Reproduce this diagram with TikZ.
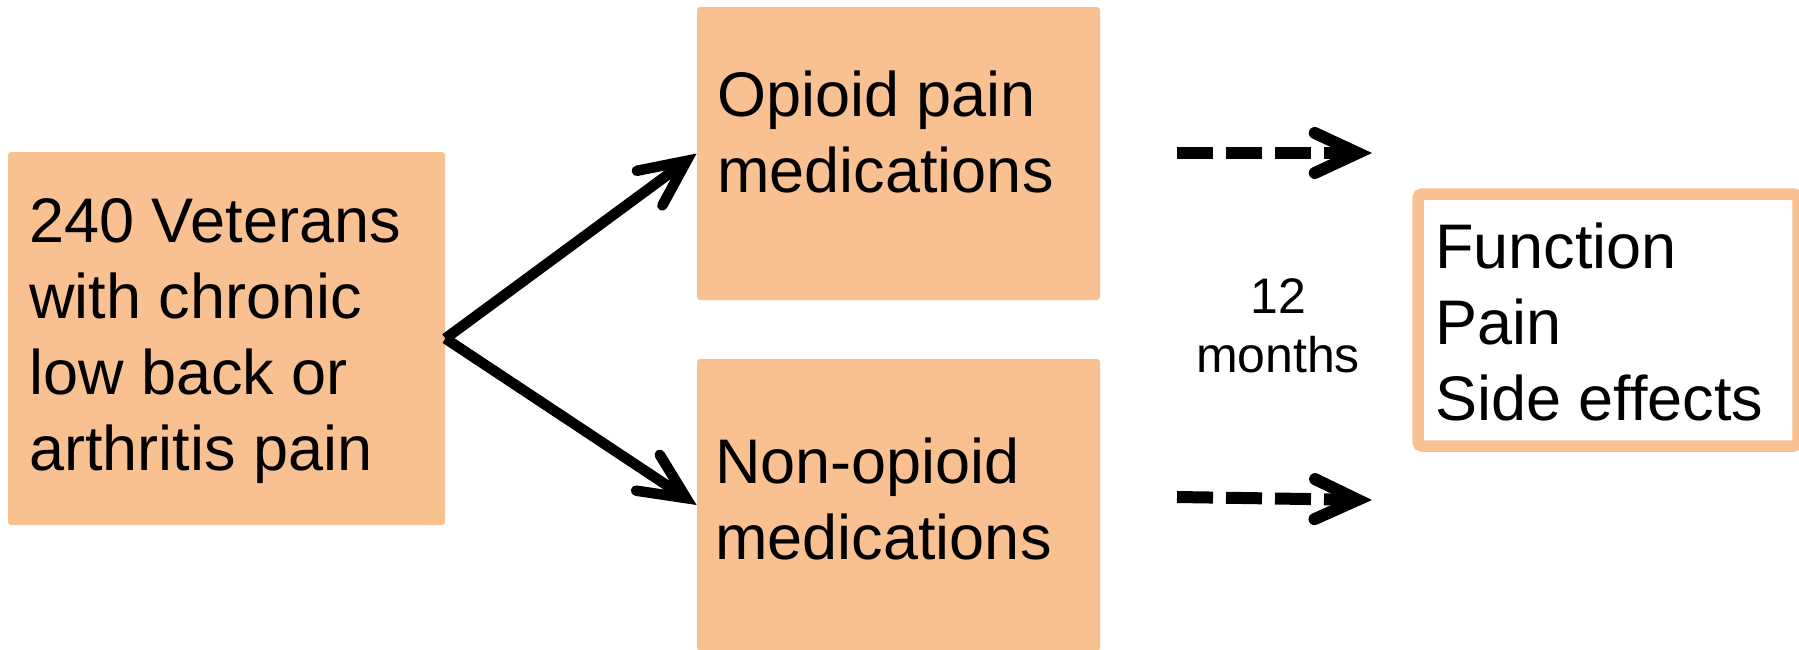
\documentclass[tikz,border=0pt]{standalone}
\usepackage{fontspec}
\setmainfont{Liberation Sans}
\usetikzlibrary{arrows.meta,fit}
\definecolor{peach}{RGB}{249,192,145}
\tikzset{
  box/.style={fill=peach, draw=none, rounded corners=1.5pt, inner sep=0pt},
  outbox/.style={draw=peach, line width=5.75pt, fill=white, rounded corners=2pt, inner sep=0pt},
  txt/.style={font=\fontsize{31.5pt}{38pt}\selectfont, align=left, inner sep=0pt, anchor=base west},
  smalltxt/.style={font=\fontsize{25pt}{29.5pt}\selectfont, align=center, inner sep=0pt, anchor=base},
  solidarrow/.style={line width=5.25pt, -{Straight Barb[length=23pt,width=21.5pt,line cap=round,line join=miter]}},
  dasharrow/.style={line width=6pt, dash pattern=on 18pt off 6.5pt, -{Straight Barb[length=21.5pt,width=20pt,line cap=round,line join=miter]}}
}
\begin{document}
\begin{tikzpicture}[x=0.5pt,y=-0.5pt]
\useasboundingbox (0,0) rectangle (1799,649);
% boxes
\node[box, fit={(8,152) (445,525)}] (src) {};
\node[box, fit={(697,7) (1100,300)}] (opi) {};
\node[box, fit={(697,359) (1100,651)}] (non) {};
\node[outbox, fit={(1418,194) (1798,446)}] (out) {};
% texts (base anchor = baseline of the last line)
\node[txt] (srct) at (29,470) {240 Veterans\\with chronic\\low back or\\arthritis pain};
\node[txt] (opit) at (717,192) {Opioid pain\\medications};
\node[txt] (nont) at (715,559) {Non-opioid\\medications};
\node[txt] (outt) at (1435,420) {Function\\Pain\\Side effects};
\node[smalltxt] (mon) at (1278,372) {12\\months};
% connectors
\draw[solidarrow] (src.east) -- (opi.west);
\draw[solidarrow] (src.east) -- (non.west);
\coordinate (d1s) at (1177,153);
\coordinate (d1e) at (1372,153);
\coordinate (d2s) at (1177,497);
\coordinate (d2e) at (1372,500);
\draw[dasharrow] (d1s) -- (d1e);
\draw[dasharrow] (d2s) -- (d2e);
\end{tikzpicture}
\end{document}
